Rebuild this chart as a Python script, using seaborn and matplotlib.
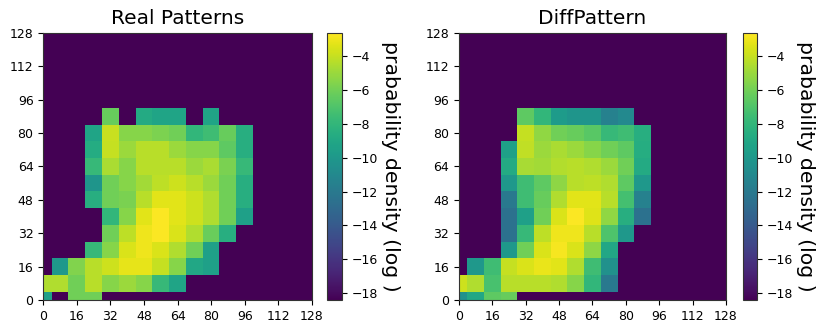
import numpy as np
import pandas as pd
import matplotlib
matplotlib.use('Agg')
import matplotlib.pyplot as plt
import seaborn as sns

# log density, background = log(1e-8)
F = -18.42
VMIN, VMAX = -18.42, -2.6
grid_pos = list(range(0, 129, 8))          # cell centres 0, 8, ..., 128
tick_vals = list(range(0, 129, 16))
cbar_ticks = [-4, -6, -8, -10, -12, -14, -16, -18]

# rows from y=0 (bottom) to y=128 (top), columns from x=0 to x=128
real_patterns = [
    [-9.5, F, -6.0, -6.0, F, F, F, F, F, F, F, F, F, F, F, F, F],
    [-4.5, -4.5, -6.0, -4.3, -5.5, -5.0, -5.5, -7.8, -9.2, F, F, F, F, F, F, F, F],
    [F, -10.0, -5.6, -4.3, -3.8, -3.2, -3.2, -4.0, -5.5, -9.0, -9.5, F, F, F, F, F, F],
    [F, F, F, -7.8, -5.5, -3.5, -3.0, -3.5, -4.5, -6.0, -9.5, F, F, F, F, F, F],
    [F, F, F, F, -6.0, -4.2, -3.0, -2.7, -3.5, -4.5, -6.2, -8.5, F, F, F, F, F],
    [F, F, F, F, -8.0, -5.5, -3.3, -2.7, -3.3, -3.8, -4.5, -6.0, -9.5, F, F, F, F],
    [F, F, F, -8.5, -6.0, -5.8, -4.3, -3.3, -3.3, -3.8, -4.5, -6.0, -8.5, F, F, F, F],
    [F, F, F, -10.2, -6.0, -5.5, -4.8, -4.2, -3.8, -4.3, -5.0, -6.0, -8.5, F, F, F, F],
    [F, F, F, -7.8, -4.6, -5.5, -4.3, -4.3, -4.3, -5.0, -4.6, -5.8, -7.8, F, F, F, F],
    [F, F, F, -8.7, -4.0, -5.0, -4.3, -4.3, -5.0, -5.5, -5.5, -6.5, -8.5, F, F, F, F],
    [F, F, F, -9.2, -3.9, -5.5, -5.5, -5.7, -6.0, -8.0, -7.5, -6.3, -8.5, F, F, F, F],
    [F, F, F, F, -6.3, F, -8.8, -9.2, -9.2, F, -9.2, F, F, F, F, F, F],
    [F] * 17,
    [F] * 17,
    [F] * 17,
    [F] * 17,
    [F] * 17,
]

diff_pattern = [
    [-10.5, -9.0, -6.5, -6.3, F, F, F, F, F, F, F, F, F, F, F, F, F],
    [-3.8, -4.5, -7.2, -4.3, -4.3, -4.3, -4.5, -5.5, -8.0, -12.0, F, F, F, F, F, F, F],
    [F, -10.0, -7.5, -4.0, -3.5, -3.1, -3.3, -4.5, -7.5, -10.5, F, F, F, F, F, F, F],
    [F, F, F, -10.0, -6.0, -3.5, -2.8, -3.5, -5.3, -9.0, F, F, F, F, F, F, F],
    [F, F, F, -12.5, -7.8, -4.2, -3.0, -3.0, -4.3, -7.0, -10.0, F, F, F, F, F, F],
    [F, F, F, -12.5, -9.5, -6.0, -3.5, -2.7, -3.4, -5.2, -8.5, -12.5, F, F, F, F, F],
    [F, F, F, -12.0, -7.5, -6.3, -4.5, -3.3, -3.3, -4.3, -7.3, -11.5, F, F, F, F, F],
    [F, F, F, -10.0, -7.5, -6.5, -5.3, -4.3, -4.2, -4.5, -6.5, -10.0, F, F, F, F, F],
    [F, F, F, -8.8, -4.7, -4.8, -4.4, -4.3, -4.5, -5.0, -6.0, -8.8, F, F, F, F, F],
    [F, F, F, -9.5, -4.1, -5.0, -4.6, -5.0, -5.5, -6.0, -6.5, -8.6, F, F, F, F, F],
    [F, F, F, F, -4.0, -5.2, -6.0, -6.3, -6.7, -7.8, -7.5, -8.5, F, F, F, F, F],
    [F, F, F, F, -6.5, -8.0, -9.8, -10.2, -10.2, -11.5, -11.0, F, F, F, F, F, F],
    [F] * 17,
    [F] * 17,
    [F] * 17,
    [F] * 17,
    [F] * 17,
]

titles = ['Real Patterns', 'DiffPattern']
cbar_label = 'prabability density (log )'

fig = plt.figure(figsize=(8.3, 3.32), dpi=100)
ax_boxes = [[0.0522, 0.0964, 0.3234, 0.805], [0.553, 0.0964, 0.3217, 0.805]]
cax_boxes = [[0.394, 0.0964, 0.018, 0.805], [0.8948, 0.0964, 0.017, 0.805]]

for data, title, box, cbox in zip([real_patterns, diff_pattern], titles, ax_boxes, cax_boxes):
    ax = fig.add_axes(box)
    cax = fig.add_axes(cbox)
    df = pd.DataFrame(np.array(data), index=grid_pos, columns=grid_pos)
    sns.heatmap(df, cmap='viridis', vmin=VMIN, vmax=VMAX, ax=ax, cbar_ax=cax,
                square=False, xticklabels=False, yticklabels=False)
    ax.invert_yaxis()
    # cell centres sit on the axis limits -> half cells at the borders
    ax.set_xlim(0.5, len(grid_pos) - 0.5)
    ax.set_ylim(0.5, len(grid_pos) - 0.5)
    pos = [0.5 + v / 8 for v in tick_vals]
    ax.set_xticks(pos)
    ax.set_xticklabels([str(v) for v in tick_vals], rotation=0)
    ax.set_yticks(pos)
    ax.set_yticklabels([str(v) for v in tick_vals], rotation=0)
    ax.tick_params(labelsize=9, length=3.5, width=0.8)
    for s in ax.spines.values():
        s.set_visible(True)
        s.set_linewidth(0.8)
        s.set_color('#333333')
    ax.set_title(title, fontsize=14.5)

    cb = ax.collections[0].colorbar
    cb.outline.set_visible(True)
    cb.outline.set_linewidth(0.8)
    cb.outline.set_edgecolor('#333333')
    cb.set_ticks(cbar_ticks)
    cb.ax.tick_params(labelsize=9, length=3.5, width=0.8)
    cb.set_label(cbar_label, rotation=270, fontsize=14.7, labelpad=16)

fig.savefig('out.png', dpi=100)
